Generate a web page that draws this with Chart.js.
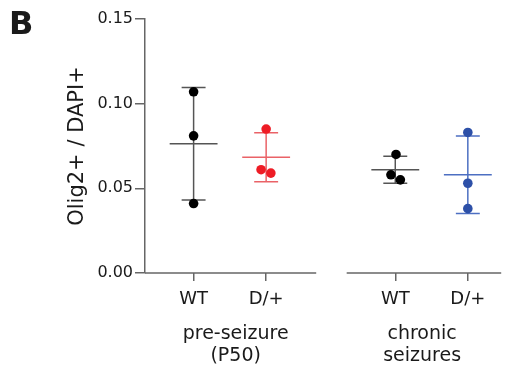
<!DOCTYPE html>
<html>
<head>
<meta charset="utf-8">
<script src="https://cdn.jsdelivr.net/npm/chart.js@4"></script>
<style>
  html, body { margin: 0; padding: 0; background: #fff; }
  #wrap { width: 506px; height: 372px; }
</style>
</head>
<body>
<div id="wrap"><canvas id="graph"></canvas></div>
<script>
// values
var categories = ['WT', 'D/+', 'WT', 'D/+'];
var groupNames = [['pre-seizure', '(P50)'], ['chronic', 'seizures']];
var yTicks = [0, 0.05, 0.10, 0.15];

var wtPre = [0.107, 0.081, 0.041];
var dPre = [0.085, 0.061, 0.059];
var wtChronic = [0.070, 0.058, 0.055];
var dChronic = [0.083, 0.053, 0.038];

// small horizontal scatter of the dots, in category units
var wtPreJitter = [0, 0, 0];
var dPreJitter = [0, -0.07, 0.065];
var wtChronicJitter = [0.01, -0.06, 0.07];
var dChronicJitter = [0, 0, 0];

var catPos = [1, 2, 3.78, 4.78];
var groupPos = [1.58, 4.15];

function mean(a) {
    return a.reduce(function(s, v) { return s + v; }, 0) / a.length;
}
function sd(a) {
    var m = mean(a);
    var ss = a.reduce(function(s, v) { return s + (v - m) * (v - m); }, 0);
    return Math.sqrt(ss / (a.length - 1));
}

function dots(vals, jitter, pos) {
    return vals.map(function(v, i) { return {x: pos + jitter[i], y: v}; });
}

// mean line + SD bar with caps, broken up by nulls
function meanSd(vals, pos) {
    var m = mean(vals), s = sd(vals);
    var w = 0.33, c = 0.165;
    return [
        {x: pos - w, y: m}, {x: pos + w, y: m}, {x: pos, y: null},
        {x: pos, y: m - s}, {x: pos, y: m + s}, {x: pos, y: null},
        {x: pos - c, y: m + s}, {x: pos + c, y: m + s}, {x: pos, y: null},
        {x: pos - c, y: m - s}, {x: pos + c, y: m - s}
    ];
}

var groups = [
    {vals: wtPre, jit: wtPreJitter, dot: '#000000', line: '#555555'},
    {vals: dPre, jit: dPreJitter, dot: '#ee1c25', line: '#ea6267'},
    {vals: wtChronic, jit: wtChronicJitter, dot: '#000000', line: '#555555'},
    {vals: dChronic, jit: dChronicJitter, dot: '#2d50a8', line: '#4d6fc2'}
];

var datasets = [];
groups.forEach(function(g, i) {
    datasets.push({
        data: dots(g.vals, g.jit, catPos[i]),
        backgroundColor: g.dot,
        borderColor: g.dot,
        pointRadius: 4.8,
        borderWidth: 0,
        order: 0
    });
    datasets.push({
        data: meanSd(g.vals, catPos[i]),
        showLine: true,
        spanGaps: false,
        borderColor: g.line,
        borderWidth: 1.5,
        pointRadius: 0,
        order: 1
    });
});

var fontName = '"DejaVu Sans", sans-serif';
var axisColor = '#666666';

var extras = {
    id: 'extras',
    afterDraw: function(chart) {
        var ctx = chart.ctx;
        var xs = chart.scales.x;
        var yb = chart.scales.y.getPixelForValue(0);
        ctx.save();
        ctx.strokeStyle = axisColor;
        ctx.lineWidth = 1.5;
        [[0.33, 2.69], [3.11, 5.24]].forEach(function(seg) {
            ctx.beginPath();
            ctx.moveTo(xs.getPixelForValue(seg[0]), yb);
            ctx.lineTo(xs.getPixelForValue(seg[1]), yb);
            ctx.stroke();
        });
        ctx.fillStyle = '#1a1a1a';
        ctx.font = 'bold 32px ' + fontName;
        ctx.textBaseline = 'alphabetic';
        ctx.fillText('B', 9, 34);
        ctx.restore();
    }
};

var ctx = document.getElementById('graph');
new Chart(ctx, {
    type: 'scatter',
    data: {datasets: datasets},
    plugins: [extras],
    options: {
        responsive: true,
        maintainAspectRatio: false,
        animation: false,
        layout: {padding: {top: 19, right: 1, left: 0, bottom: 0}},
        plugins: {
            legend: {display: false},
            tooltip: {enabled: false}
        },
        scales: {
            y: {
                min: 0,
                max: 0.15,
                afterFit: function(s) { s.width = 145; },
                afterBuildTicks: function(s) {
                    s.ticks = yTicks.map(function(v) { return {value: v}; });
                },
                border: {display: true, color: axisColor, width: 1.5},
                grid: {drawOnChartArea: false, drawTicks: true, tickLength: 10, color: axisColor, lineWidth: 1.5},
                ticks: {
                    padding: 2,
                    color: '#1a1a1a',
                    font: {family: fontName, size: 16},
                    callback: function(v) { return v.toFixed(2); }
                },
                title: {
                    display: true,
                    text: 'Olig2+ / DAPI+',
                    color: '#1a1a1a',
                    font: {family: fontName, size: 21},
                    padding: {top: 65, bottom: 0}
                }
            },
            x: {
                type: 'linear',
                position: 'bottom',
                min: 0.33,
                max: 5.24,
                afterFit: function(s) { s.height = 44; },
                afterBuildTicks: function(s) {
                    s.ticks = catPos.map(function(v) { return {value: v}; });
                },
                border: {display: false},
                grid: {drawOnChartArea: false, drawTicks: true, tickLength: 8, color: axisColor, lineWidth: 1.5},
                ticks: {
                    padding: 8,
                    color: '#1a1a1a',
                    maxRotation: 0,
                    font: {family: fontName, size: 18},
                    callback: function(v, i) { return categories[i]; }
                }
            },
            groups: {
                type: 'linear',
                position: 'bottom',
                min: 0.33,
                max: 5.24,
                afterFit: function(s) { s.height = 55; },
                afterBuildTicks: function(s) {
                    s.ticks = groupPos.map(function(v) { return {value: v}; });
                },
                border: {display: false},
                grid: {display: false, drawTicks: false},
                ticks: {
                    padding: 6,
                    color: '#1a1a1a',
                    maxRotation: 0,
                    font: {family: fontName, size: 19, lineHeight: 1.15},
                    callback: function(v, i) { return groupNames[i]; }
                }
            }
        }
    }
});
</script>
</body>
</html>
